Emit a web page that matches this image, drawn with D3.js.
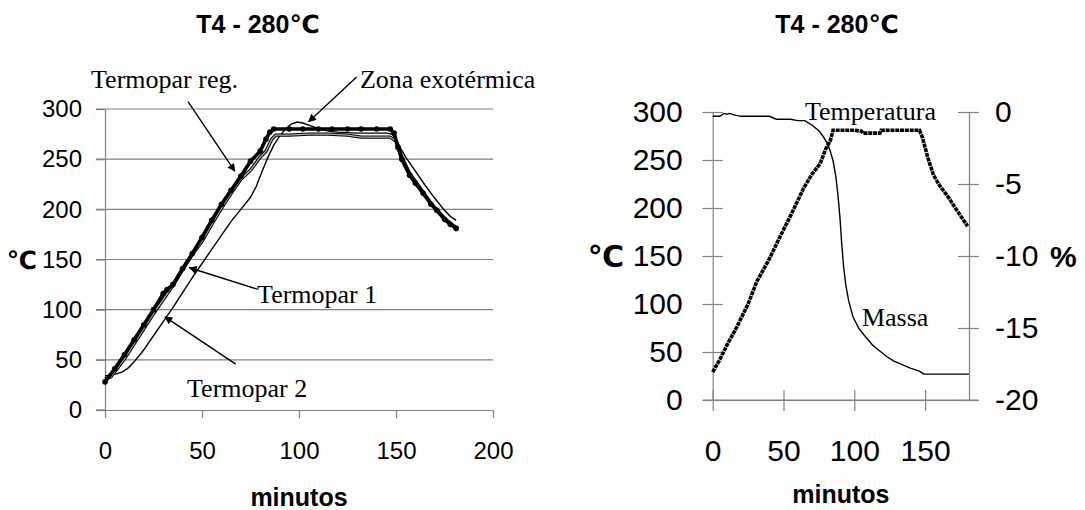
<!DOCTYPE html>
<html><head><meta charset="utf-8">
<script src="https://cdn.jsdelivr.net/npm/d3@7/dist/d3.min.js"></script>
<style>
body{margin:0;background:#fff;}
svg{display:block;}
.sans{font-family:"Liberation Sans",Arial,"DejaVu Sans",sans-serif;}
.serif{font-family:"Liberation Serif","Times New Roman",serif;}
</style></head>
<body>
<svg id="c" width="1085" height="510"></svg>
<script>
// ---------- DATA ----------
const chartTitle = "T4 - 280℃";
const xTitle = "minutos";
const leftXTicks = [0, 50, 100, 150, 200];
const leftYTicks = [0, 50, 100, 150, 200, 250, 300];
const rightXTicks = [0, 50, 100, 150];
const rightYTicks = [0, 50, 100, 150, 200, 250, 300];
const rightY2Ticks = [-20, -15, -10, -5, 0];

// Left chart: Termopar reg.
const regT = [0,5,10,15,20,25,30,32,35,40,45,50,55,60,65,70,75,80,83,85,87,95,102,110,117,125,132,140,147,149,151,153,157,160,164,168,171,175,178,181];
const regV = [28,41,55,70,85,100,116,120,125,141,156,172,189,205,219,233,248,258,270,277,280,280,280,280,280,280,280,280,280,276,262,250,234,226,216,205,199,190,185,181];
// Termopar 1
const t1T = [0,3,5,10,15,20,25,30,35,40,45,50,55,60,65,70,75,80,83,86,88,95,105,115,125,132,140,147,150,153,157,160,164,168,171,175,178,181];
const t1V = [31,33,38,51,66,81,96,110,124,140,155,168,185,201,216,230,239,252,258,270,274,274,275,275,274,272,272,272,268,252,236,228,217,206,200,191,186,182];
// Termopar 2
const t2T = [0,3,6,9,12,15,18,20,25,30,35,40,45,50,55,60,65,70,75,78,81,84,87,90,93,96,99,102,105,108,111,115,120,130,140,145,148,150,152,155,160,165,170,175,178,181];
const t2V = [34,35,36,38,42,48,55,60,74,88,102,117,132,146,160,174,188,200,212,223,238,252,264,273,280,285,287,286,284,282,280,278,277,276,276,276,275,270,262,252,238,224,211,199,193,189];

// Right chart: Temperatura (left axis, °C)
const tempT = [0,5,10,17,25,31,40,47.5,55,64,70,75.8,80,83,85,90,100,105,106,118,119,130,140,146,148,152,156,160,163,167,170,175,180];
const tempV = [29,42,57,76,100,123,147,170,192,220,235,246,262,270,281,281,281,280,278,278,281,281,281,281,274,252,234,224,218,210,203,192,181];
// Massa (right axis, %)
const massT = [0,5,8,10,12,15,20,30,40,45,55,60,65,70,75,78,81,83,85,87,88.5,90,91,92.5,94,96,99,103,107,113,118,123,128,135,140,146,149,160,170,181];
const massV = [-0.3,-0.3,-0.1,-0.15,-0.1,-0.2,-0.3,-0.3,-0.3,-0.5,-0.5,-0.6,-0.6,-0.9,-1.3,-1.7,-2.2,-2.7,-3.4,-4.5,-5.8,-7.5,-9,-10.8,-12,-13.1,-14.2,-15,-15.5,-16.2,-16.6,-17.0,-17.3,-17.6,-17.8,-18.0,-18.2,-18.2,-18.2,-18.2];

// Annotations (data coordinates)
const leftNotes = [
  {text:"Termopar reg.", t:-7.2, v:320.7, from:[42.8,307.3], to:[66.9,238]},
  {text:"Zona exotérmica", t:131.4, v:320.7, from:[129.7,332], to:[105,287.4]},
  {text:"Termopar 1", t:78.4, v:106.6, from:[78.4,120.5], to:[43.5,141.8]},
  {text:"Termopar 2", t:42.3, v:13.4, from:[67.4,45.8], to:[30.9,92.8]}
];
const rightNotes = [
  {text:"Temperatura", t:65.2, v:291.7},
  {text:"Massa", t:105.4, v:77}
];

// ---------- DRAW ----------
const svg = d3.select("#c");
const grid = "#808080";
const fmt = d => String(d);
const defs = svg.append("defs");
defs.append("marker").attr("id","ah").attr("viewBox","0 0 10 10")
  .attr("refX",9).attr("refY",5).attr("markerWidth",10).attr("markerHeight",8)
  .attr("markerUnits","userSpaceOnUse").attr("orient","auto")
  .append("path").attr("d","M0,0 L10,5 L0,10 Z").attr("fill","#000");

const zip = (a,b)=>a.map((d,i)=>[d,b[i]]);

// ===== LEFT CHART =====
const xL = d3.scaleLinear().domain([0,200]).range([105,493]);
const yL = d3.scaleLinear().domain([0,300]).range([410,109]);
const gL = svg.append("g");

gL.selectAll("line.grid").data(leftYTicks.filter(d=>d>0)).join("line")
  .attr("x1",xL(0)-9).attr("x2",xL(200)).attr("y1",d=>yL(d)).attr("y2",d=>yL(d))
  .attr("stroke",grid).attr("stroke-width",1.2);

const axYL = gL.append("g").attr("transform",`translate(${xL(0)},0)`)
  .call(d3.axisLeft(yL).tickValues(leftYTicks).tickFormat(fmt).tickSizeInner(9).tickSizeOuter(0).tickPadding(14));
const axXL = gL.append("g").attr("transform",`translate(0,${yL(0)})`)
  .call(d3.axisBottom(xL).tickValues(leftXTicks).tickFormat(fmt).tickSizeInner(8).tickSizeOuter(0).tickPadding(24));
[axYL,axXL].forEach(a=>{
  a.select(".domain").attr("stroke",grid).attr("stroke-width",1.2);
  a.selectAll(".tick line").attr("stroke",grid).attr("stroke-width",1.2);
  a.selectAll("text").attr("class","sans").attr("font-size",24).attr("fill","#000");
});
gL.append("line").attr("x1",xL(0)-9).attr("x2",xL(0)).attr("y1",yL(0)).attr("y2",yL(0))
  .attr("stroke",grid).attr("stroke-width",1.2);

const lineL = d3.line().x(d=>xL(d[0])).y(d=>yL(d[1]));
gL.append("path").datum(zip(t2T,t2V)).attr("d",lineL).attr("fill","none")
  .attr("stroke","#000").attr("stroke-width",1.4);
gL.append("path").datum(zip(t1T,t1V)).attr("d",lineL).attr("fill","none")
  .attr("stroke","#000").attr("stroke-width",3.4);
gL.append("path").datum(zip(t1T,t1V)).attr("d",lineL).attr("fill","none")
  .attr("stroke","#b0b0b0").attr("stroke-width",1.3);
gL.append("path").datum(zip(regT,regV)).attr("d",lineL).attr("fill","none")
  .attr("stroke","#000").attr("stroke-width",3.6).attr("stroke-linejoin","round");
gL.selectAll("circle.reg").data(zip(regT,regV)).join("circle")
  .attr("cx",d=>xL(d[0])).attr("cy",d=>yL(d[1])).attr("r",2.8).attr("fill","#000");

leftNotes.forEach(n=>{
  gL.append("line").attr("x1",xL(n.from[0])).attr("y1",yL(n.from[1]))
    .attr("x2",xL(n.to[0])).attr("y2",yL(n.to[1]))
    .attr("stroke","#000").attr("stroke-width",1.4).attr("marker-end","url(#ah)");
  gL.append("text").attr("class","serif").attr("x",xL(n.t)).attr("y",yL(n.v))
    .attr("font-size",26).text(n.text);
});

gL.append("text").attr("class","sans").attr("x",258).attr("y",33).attr("text-anchor","middle")
  .attr("font-size",25).attr("font-weight","bold").text(chartTitle);
gL.append("text").attr("class","sans").attr("x",(xL(0)+xL(200))/2).attr("y",506).attr("text-anchor","middle")
  .attr("font-size",25).attr("font-weight","bold").text(xTitle);
gL.append("text").attr("class","sans").attr("x",22).attr("y",yL(150)+9).attr("text-anchor","middle")
  .attr("font-size",25).attr("font-weight","bold").text("℃");

// ===== RIGHT CHART =====
const xR = d3.scaleLinear().domain([0,181]).range([712.7,969]);
const yR = d3.scaleLinear().domain([0,300]).range([400,112]);
const yR2 = d3.scaleLinear().domain([-20,0]).range([400,112]);
const gR = svg.append("g");

const axYR = gR.append("g").attr("transform",`translate(${xR(0)},0)`)
  .call(d3.axisLeft(yR).tickValues(rightYTicks).tickFormat(fmt).tickSizeInner(10).tickSizeOuter(0).tickPadding(20));
axYR.selectAll(".tick line").attr("x1",10).attr("x2",-10);
const axYR2 = gR.append("g").attr("transform",`translate(${xR(181)},0)`)
  .call(d3.axisRight(yR2).tickValues(rightY2Ticks).tickFormat(fmt).tickSizeInner(10).tickSizeOuter(0).tickPadding(16));
axYR2.selectAll(".tick line").attr("x1",-11).attr("x2",10);
const axXR = gR.append("g").attr("transform",`translate(0,${yR(0)})`)
  .call(d3.axisBottom(xR).tickValues(rightXTicks).tickFormat(fmt).tickSizeInner(10).tickSizeOuter(0).tickPadding(30));
axXR.selectAll(".tick line").attr("y1",-10).attr("y2",11);
[axYR,axYR2,axXR].forEach(a=>{
  a.select(".domain").attr("stroke",grid).attr("stroke-width",1.2);
  a.selectAll(".tick line").attr("stroke",grid).attr("stroke-width",1.2);
  a.selectAll("text").attr("class","sans").attr("font-size",30).attr("fill","#000");
});
gR.append("line").attr("x1",xR(0)-10).attr("x2",xR(181)+9).attr("y1",yR(0)).attr("y2",yR(0))
  .attr("stroke",grid).attr("stroke-width",1.2);

const lineR = d3.line().x(d=>xR(d[0])).y(d=>yR(d[1]));
gR.append("path").datum(zip(massT,massV)).attr("d",d3.line().x(d=>xR(d[0])).y(d=>yR2(d[1])))
  .attr("fill","none").attr("stroke","#000").attr("stroke-width",1.4);
gR.append("path").datum(zip(tempT,tempV)).attr("d",lineR).attr("fill","none")
  .attr("stroke","#000").attr("stroke-width",3.6).attr("stroke-dasharray","4 0.8");

rightNotes.forEach(n=>{
  gR.append("text").attr("class","serif").attr("x",xR(n.t)).attr("y",yR(n.v))
    .attr("font-size",26).text(n.text);
});

gR.append("text").attr("class","sans").attr("x",837).attr("y",33).attr("text-anchor","middle")
  .attr("font-size",25).attr("font-weight","bold").text(chartTitle);
gR.append("text").attr("class","sans").attr("x",(xR(0)+xR(181))/2).attr("y",503).attr("text-anchor","middle")
  .attr("font-size",25).attr("font-weight","bold").text(xTitle);
gR.append("text").attr("class","sans").attr("x",606).attr("y",yR(150)+11).attr("text-anchor","middle")
  .attr("font-size",30).attr("font-weight","bold").text("℃");
gR.append("text").attr("class","sans").attr("x",1050).attr("y",yR(150)+11)
  .attr("font-size",30).attr("font-weight","bold").text("%");
</script>
</body></html>
